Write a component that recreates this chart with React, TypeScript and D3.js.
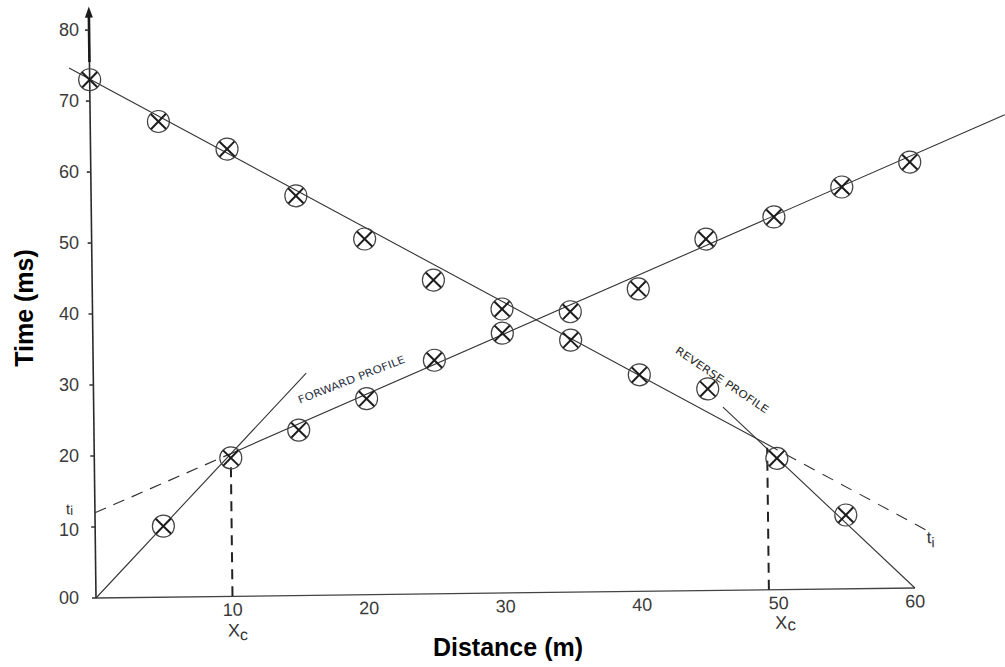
import React from "react";
import * as d3 from "d3";

// ---- data (distance in m, time in ms) ----
const forwardDistance = [5, 10, 15, 20, 25, 30, 35, 40, 45, 50, 55, 60];
const forwardTime = [10, 19.5, 23.3, 27.6, 32.9, 36.6, 39.5, 42.6, 49.5, 52.5, 56.6, 60];
const reverseDistance = [0, 5, 10, 15, 20, 25, 30, 35, 40, 45, 50, 55];
const reverseTime = [73, 67, 63, 56.3, 50.1, 44.2, 40, 35.5, 30.5, 28.4, 18.5, 10.4];

const yTicks = [0, 10, 20, 30, 40, 50, 60, 70, 80];
const yTickLabels = ["00", "10", "20", "30", "40", "50", "60", "70", "80"];
const xTicks = [10, 20, 30, 40, 50, 60];

// fitted travel-time segments [distance, time]
const forwardDirect: [number, number][] = [[0, 0], [15.6, 31.3]];
const forwardIntercept: [number, number][] = [[0, 12], [10, 20.1]];
const forwardRefracted: [number, number][] = [[10, 20.1], [67, 66.5]];
const reverseRefracted: [number, number][] = [[-1.5, 74.7], [49.3, 20.5]];
const reverseIntercept: [number, number][] = [[49.3, 20.5], [60.9, 8.1]];
const reverseDirect: [number, number][] = [[46.1, 25.8], [60, 0]];
const crossoverLeft: [number, number][] = [[10, 0], [10, 19]];
const crossoverRight: [number, number][] = [[49.3, 0], [49.3, 20]];
const yAxisTop = 83.3;

const W = 1005;
const H = 667;
const ORIGIN_X = 96;
const ORIGIN_Y = 598;
const TILT = -0.7;

const x = d3.scaleLinear().domain([0, 60]).range([ORIGIN_X, 915]);
const y = d3.scaleLinear().domain([0, 80]).range([ORIGIN_Y, 30]);
const line = d3
  .line<[number, number]>()
  .x((d) => x(d[0]))
  .y((d) => y(d[1]));

const INK = "#333";
const FONT = "'Liberation Sans', Arial, Helvetica, sans-serif";

function Marker({ cx, cy }: { cx: number; cy: number }) {
  const r = 11;
  const a = 7.6;
  return (
    <g transform={`translate(${cx},${cy})`}>
      <circle r={r} fill="none" stroke="#444" strokeWidth={1.2} />
      <line x1={-a} y1={-a} x2={a} y2={a} stroke="#1c1c1c" strokeWidth={2} />
      <line x1={-a} y1={a} x2={a} y2={-a} stroke="#1c1c1c" strokeWidth={2} />
    </g>
  );
}

export default function App() {
  const fwd = forwardDistance.map((d, i) => [d, forwardTime[i]] as [number, number]);
  const rev = reverseDistance.map((d, i) => [d, reverseTime[i]] as [number, number]);
  const endRI = reverseIntercept[1];
  return (
    <svg
      width={W}
      height={H}
      viewBox={`0 0 ${W} ${H}`}
      style={{ position: "absolute", left: 0, top: 0, background: "#fff" }}
    >
      <rect x={0} y={0} width={W} height={H} fill="#fff" />
      <g transform={`rotate(${TILT} ${ORIGIN_X} ${ORIGIN_Y})`}>
        {/* axes */}
        <line x1={x(0)} y1={y(0)} x2={x(60)} y2={y(0)} stroke="#444" strokeWidth={1.3} />
        <line x1={x(0)} y1={y(0)} x2={x(0)} y2={y(yAxisTop) + 8} stroke="#2a2a2a" strokeWidth={1.6} />
        <line x1={x(0)} y1={y(75.5)} x2={x(0)} y2={y(yAxisTop) + 8} stroke="#1a1a1a" strokeWidth={2.6} />
        <polygon
          points={`${x(0)},${y(yAxisTop)} ${x(0) - 4},${y(yAxisTop) + 11} ${x(0) + 4},${y(yAxisTop) + 11}`}
          fill="#1a1a1a"
        />
        {yTicks.map((t) => (
          <line key={t} x1={x(0) - 4} x2={x(0)} y1={y(t)} y2={y(t)} stroke="#333" strokeWidth={1.6} />
        ))}
        {xTicks.map((t) => (
          <text
            key={t}
            x={x(t)}
            y={y(0) + 19.5}
            textAnchor="middle"
            fontFamily={FONT}
            fontSize={18}
            fill="#3a3a3a"
          >
            {t}
          </text>
        ))}

        {/* fitted lines */}
        <path d={line(forwardDirect) ?? ""} fill="none" stroke={INK} strokeWidth={1.1} />
        <path d={line(forwardRefracted) ?? ""} fill="none" stroke={INK} strokeWidth={1.1} />
        <path d={line(forwardIntercept) ?? ""} fill="none" stroke={INK} strokeWidth={1.2} strokeDasharray="12 8" />
        <path d={line(reverseRefracted) ?? ""} fill="none" stroke={INK} strokeWidth={1.1} />
        <path d={line(reverseIntercept) ?? ""} fill="none" stroke={INK} strokeWidth={1.1} strokeDasharray="12 9" />
        <path d={line(reverseDirect) ?? ""} fill="none" stroke={INK} strokeWidth={1.1} />
        <path d={line(crossoverLeft) ?? ""} fill="none" stroke="#222" strokeWidth={2} strokeDasharray="10 7" />
        <path d={line(crossoverRight) ?? ""} fill="none" stroke="#222" strokeWidth={2} strokeDasharray="10 7" />

        {/* data points */}
        {fwd.map((d, i) => (
          <Marker key={`f${i}`} cx={x(d[0])} cy={y(d[1])} />
        ))}
        {rev.map((d, i) => (
          <Marker key={`r${i}`} cx={x(d[0])} cy={y(d[1])} />
        ))}

        {/* annotations */}
        <text
          transform={`translate(${x(15.1)},${y(27)}) rotate(-20.7)`}
          fontFamily="'DejaVu Sans', sans-serif"
          fontSize={10.5}
          fill="#2e3444"
          textLength={114}
          lengthAdjust="spacingAndGlyphs"
        >
          FORWARD PROFILE
        </text>
        <text
          transform={`translate(${x(42.6)},${y(33.6)}) rotate(34.7)`}
          fontFamily="'DejaVu Sans', sans-serif"
          fontSize={10.5}
          fill="#2a2a2a"
          textLength={110}
          lengthAdjust="spacingAndGlyphs"
        >
          REVERSE  PROFILE
        </text>

        <text x={x(10) - 5} y={y(0) + 40} fontFamily={FONT} fontSize={18} fill="#333">
          X<tspan fontSize={16} dy={4}>c</tspan>
        </text>
        <text x={x(49.3) + 6} y={y(0) + 39} fontFamily={FONT} fontSize={18} fill="#333">
          X<tspan fontSize={17} dy={2}>c</tspan>
        </text>

        <text x={x(0) - 29} y={y(forwardIntercept[0][1]) + 1} fontFamily={FONT} fontSize={15} fill="#333">
          t<tspan fontSize={13} dy={1}>i</tspan>
        </text>
        <text x={x(endRI[0])} y={y(endRI[1]) + 13} fontFamily={FONT} fontSize={17} fill="#333">
          t<tspan fontSize={14} dy={4}>i</tspan>
        </text>
      </g>

      {/* y tick labels */}
      {yTicks.map((t, i) => (
        <text
          key={t}
          x={79}
          y={y(t) + (t === 10 ? 3 : 0)}
          textAnchor="end"
          dominantBaseline="central"
          fontFamily={FONT}
          fontSize={18}
          fill="#3a3a3a"
        >
          {yTickLabels[i]}
        </text>
      ))}

      {/* axis titles */}
      <text
        transform={`translate(33,308) rotate(-90)`}
        textAnchor="middle"
        fontFamily={FONT}
        fontWeight="bold"
        fontSize={25}
        fill="#000"
      >
        Time (ms)
      </text>
      <text
        x={508}
        y={656}
        textAnchor="middle"
        fontFamily={FONT}
        fontWeight="bold"
        fontSize={25}
        fill="#000"
      >
        Distance (m)
      </text>
    </svg>
  );
}
